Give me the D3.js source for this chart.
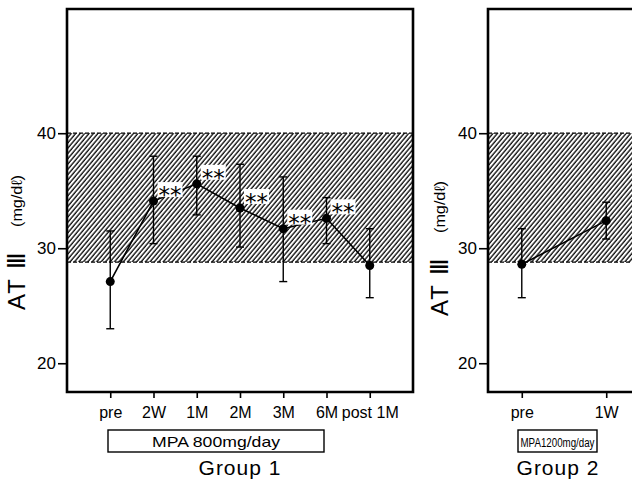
<!DOCTYPE html>
<html>
<head>
<meta charset="utf-8">
<script src="https://cdn.jsdelivr.net/npm/d3@7"></script>
<style>
  body { margin: 0; background: #fff; }
  text { font-family: "Liberation Sans", Arial, sans-serif; fill: #000; }
</style>
</head>
<body>
<script>
/***********************************************************************************/
// Data

var yTicks = [20, 30, 40];
var normalRange = [28.8, 40];

var group1Cats = ["pre", "2W", "1M", "2M", "3M", "6M", "post 1M"];
var group1Mean = [27.1, 34.1, 35.6, 33.5, 31.7, 32.6, 28.5];
var group1Upper = [31.5, 38.0, 38.0, 37.3, 36.2, 34.4, 31.7];
var group1Lower = [23.0, 30.4, 32.9, 30.1, 27.1, 30.4, 25.7];
var group1Sig = ["", "**", "**", "**", "**", "**", ""];

var group2Cats = ["pre", "1W"];
var group2Mean = [28.6, 32.4];
var group2Upper = [31.7, 34.0];
var group2Lower = [25.7, 30.8];
var group2Sig = ["", ""];

var yLabel = "AT Ⅲ";
var yUnit = "(mg/dℓ)";

/***********************************************************************************/
// Setup

var W = 632, H = 482;
var svg = d3.select('body').append('svg').attr('width', W).attr('height', H);

var defs = svg.append('defs');
var pat = defs.append('pattern').attr('id', 'hatch').attr('patternUnits', 'userSpaceOnUse')
  .attr('width', 3.4).attr('height', 10).attr('patternTransform', 'rotate(40)');
pat.append('line').attr('x1', 1).attr('x2', 1).attr('y1', 0).attr('y2', 10)
  .attr('stroke', '#000').attr('stroke-width', 1.3);

var plotTop = 9, plotBottom = 392;
var y = d3.scaleLinear().domain([17.5, 50.8]).range([plotBottom, plotTop]);

/***********************************************************************************/
// Draw one panel

function drawPanel(opt){
  var g = svg.append('g');
  var x = d3.scalePoint().domain(opt.cats).range([opt.left, opt.right]).padding(opt.pad);

  // normal range band
  g.append('rect').attr('x', opt.left).attr('width', opt.right - opt.left)
    .attr('y', y(normalRange[1])).attr('height', y(normalRange[0]) - y(normalRange[1]))
    .attr('fill', 'url(#hatch)');
  normalRange.forEach(function(v){
    g.append('line').attr('x1', opt.left).attr('x2', opt.right).attr('y1', y(v)).attr('y2', y(v))
      .attr('stroke', '#000').attr('stroke-width', 1.3).attr('stroke-dasharray', '4,2');
  });

  // frame
  var fr = g.append('path').attr('fill', 'none').attr('stroke', '#000').attr('stroke-width', 2.6);
  if(opt.closed){
    fr.attr('d', 'M' + opt.left + ',' + plotTop + 'H' + opt.right + 'V' + plotBottom + 'H' + opt.left + 'Z');
  } else {
    fr.attr('d', 'M' + opt.right + ',' + plotTop + 'H' + opt.left + 'V' + plotBottom + 'H' + opt.right);
  }

  // y axis
  var ya = g.append('g').attr('transform', 'translate(' + opt.left + ',0)')
    .call(d3.axisLeft(y).tickValues(yTicks).tickSize(9).tickPadding(2));
  ya.select('.domain').remove();
  ya.selectAll('line').attr('stroke-width', 1.6);
  ya.selectAll('text').style('font-size', '17px').style('font-family', '"Liberation Sans", Arial, sans-serif');

  // x axis
  var xa = g.append('g').attr('transform', 'translate(0,' + plotBottom + ')')
    .call(d3.axisBottom(x).tickSize(6).tickPadding(9));
  xa.select('.domain').remove();
  xa.selectAll('line').attr('stroke-width', 1.6);
  xa.selectAll('text').style('font-size', '16px').style('font-family', '"Liberation Sans", Arial, sans-serif');

  // y label
  g.append('text').attr('transform', 'translate(' + opt.labX + ',' + opt.labY + ') rotate(-90)')
    .style('font-size', '24px').style('letter-spacing', '2px').text(yLabel);
  g.append('text').attr('transform', 'translate(' + (opt.labX - 3) + ',' + (opt.labY - 83) + ') rotate(-90)')
    .style('font-size', '15px').attr('textLength', 52).attr('lengthAdjust', 'spacingAndGlyphs').text(yUnit);

  // line
  var line = d3.line().x(function(d, i){ return x(opt.cats[i]); }).y(function(d){ return y(d); });
  g.append('path').datum(opt.mean).attr('d', line).attr('fill', 'none')
    .attr('stroke', '#000').attr('stroke-width', 1.6);

  // error bars
  opt.cats.forEach(function(c, i){
    var cx = x(c);
    g.append('line').attr('x1', cx).attr('x2', cx).attr('y1', y(opt.upper[i])).attr('y2', y(opt.lower[i]))
      .attr('stroke', '#000').attr('stroke-width', 1.4);
    [opt.upper[i], opt.lower[i]].forEach(function(v){
      g.append('line').attr('x1', cx - 4).attr('x2', cx + 4).attr('y1', y(v)).attr('y2', y(v))
        .attr('stroke', '#000').attr('stroke-width', 1.4);
    });
  });

  // significance marks
  opt.cats.forEach(function(c, i){
    if(!opt.sig[i]) return;
    var cx = x(c) + 4, cy = y(opt.mean[i]) - 11;
    g.append('rect').attr('x', cx).attr('y', cy - 8).attr('width', 25).attr('height', 15).attr('fill', '#fff');
    g.append('text').attr('x', cx + 1).attr('y', cy + 13)
      .style('font-family', '"DejaVu Sans", sans-serif').style('font-size', '23px')
      .attr('textLength', 23).attr('lengthAdjust', 'spacingAndGlyphs').text(opt.sig[i]);
  });

  // dots
  g.selectAll('circle.pt').data(opt.mean).enter().append('circle')
    .attr('cx', function(d, i){ return x(opt.cats[i]); }).attr('cy', function(d){ return y(d); })
    .attr('r', 4.5).attr('fill', '#000');

  // dose box
  g.append('rect').attr('x', opt.box[0]).attr('y', 430).attr('width', opt.box[1] - opt.box[0]).attr('height', 22)
    .attr('fill', '#fff').attr('stroke', '#000').attr('stroke-width', 1.4);
  g.append('text').attr('x', (opt.box[0] + opt.box[1]) / 2).attr('y', 447).attr('text-anchor', 'middle')
    .style('font-size', opt.boxFont).attr('textLength', opt.boxLen).attr('lengthAdjust', 'spacingAndGlyphs')
    .text(opt.dose);
  g.append('text').attr('x', opt.groupX).attr('y', 475).attr('text-anchor', 'middle')
    .style('font-size', '21px').style('letter-spacing', '1px').text(opt.group);
}

drawPanel({ cats: group1Cats, mean: group1Mean, upper: group1Upper, lower: group1Lower, sig: group1Sig,
  left: 67, right: 413, pad: 1, closed: true, labX: 25, labY: 310,
  box: [108, 324], dose: 'MPA 800mg/day', boxFont: '15px', boxLen: 128, group: 'Group 1', groupX: 240 });

drawPanel({ cats: group2Cats, mean: group2Mean, upper: group2Upper, lower: group2Lower, sig: group2Sig,
  left: 488, right: 640, pad: 0.4, closed: false, labX: 448, labY: 316,
  box: [518, 597], dose: 'MPA1200mg/day', boxFont: '12px', boxLen: 74, group: 'Group 2', groupX: 558 });
</script>
</body>
</html>
